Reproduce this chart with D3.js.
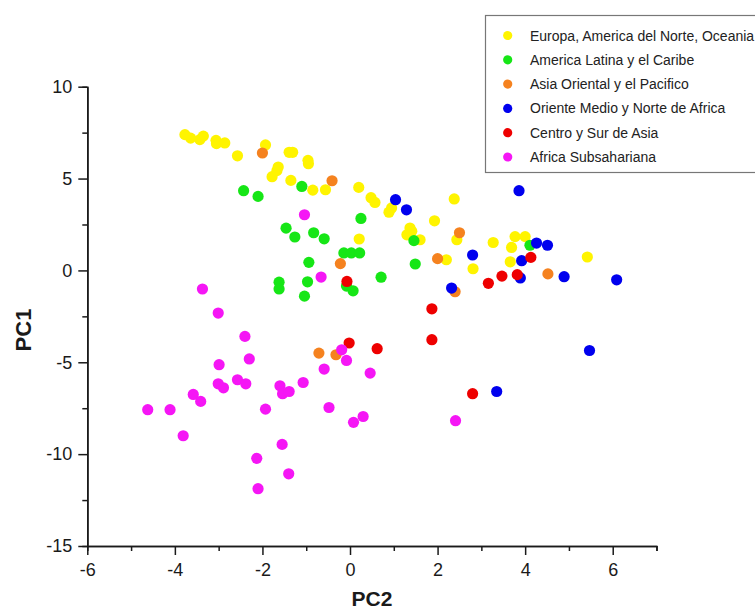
<!DOCTYPE html>
<html>
<head>
<meta charset="utf-8">
<script src="https://cdn.jsdelivr.net/npm/d3@7"></script>
<style>
  html, body { margin: 0; padding: 0; background: #fff; }
  svg { display: block; font-family: "Liberation Sans", Arial, sans-serif; }
</style>
</head>
<body>
<svg id="chart" width="755" height="612"></svg>
<script>
// ---- Data (PC2, PC1) per region ----
const seriesNames = [
  "Europa, America del Norte, Oceania",
  "America Latina y el Caribe",
  "Asia Oriental y el Pacifico",
  "Oriente Medio y Norte de Africa",
  "Centro y Sur de Asia",
  "Africa Subsahariana"
];
const seriesColors = ["#fff400", "#16e616", "#f5821f", "#0000ee", "#ee0000", "#f516f5"];

const europa = [
  [-3.77,7.39],[-3.64,7.20],[-3.43,7.12],[-3.35,7.31],[-3.06,7.08],[-3.05,6.90],[-2.86,6.94],
  [-2.57,6.24],[-1.93,6.83],[-1.39,6.43],[-1.31,6.43],[-1.64,5.63],[-1.67,5.43],[-1.78,5.10],
  [-0.96,5.99],[-0.95,5.81],[-1.35,4.90],[-0.85,4.37],[-0.56,4.39],[0.20,4.52],[0.48,3.96],
  [0.57,3.70],[0.89,3.17],[0.95,3.40],[2.38,3.89],[1.93,2.70],[0.21,1.71],[1.37,2.31],
  [1.41,2.13],[1.30,1.94],[1.60,1.67],[2.44,1.67],[3.27,1.52],[3.77,1.84],[4.00,1.84],
  [3.69,1.25],[5.42,0.73],[2.20,0.58],[3.66,0.47],[2.81,0.09]
];
const americaLatina = [
  [-2.43,4.34],[-2.10,4.03],[-1.10,4.57],[0.25,2.83],[-1.46,2.30],[-1.26,1.82],[-0.83,2.05],
  [-0.59,1.72],[-0.14,0.95],[0.03,0.95],[0.22,0.95],[-0.94,0.44],[-0.97,-0.62],[-1.62,-0.64],
  [-1.62,-1.01],[-1.04,-1.40],[-0.08,-0.85],[0.07,-1.11],[0.71,-0.37],[1.49,0.35],[1.46,1.62],
  [4.11,1.37]
];
const asiaOriental = [
  [-2.00,6.39],[-0.41,4.88],[-0.22,0.37],[2.00,0.64],[2.50,2.05],[4.52,-0.19],[2.40,-1.16],
  [-0.71,-4.50],[-0.32,-4.59]
];
const orienteMedio = [
  [1.04,3.85],[1.29,3.30],[3.86,4.34],[4.26,1.49],[4.51,1.37],[2.80,0.84],[3.92,0.53],
  [4.89,-0.34],[6.09,-0.51],[3.89,-0.41],[2.32,-0.96],[5.47,-4.36],[3.35,-6.59]
];
const centroSurAsia = [
  [-0.07,-0.60],[1.87,-2.09],[1.87,-3.77],[-0.02,-3.95],[0.62,-4.26],[2.80,-6.71],
  [3.16,-0.70],[3.47,-0.31],[3.82,-0.23],[4.13,0.71]
];
const africaSub = [
  [-3.37,-1.01],[-3.01,-2.32],[-2.40,-3.59],[-2.30,-4.82],[-2.99,-5.13],[-3.01,-6.17],
  [-2.89,-6.39],[-2.57,-5.95],[-2.38,-6.17],[-1.60,-6.28],[-1.54,-6.71],[-1.39,-6.59],
  [-1.07,-6.10],[-3.58,-6.75],[-3.41,-7.13],[-4.62,-7.58],[-4.11,-7.58],[-1.93,-7.55],
  [-0.48,-7.46],[0.08,-8.27],[0.30,-7.95],[-3.81,-9.00],[-1.55,-9.47],[-2.13,-10.23],
  [-1.40,-11.07],[-2.10,-11.88],[-0.19,-4.32],[-0.08,-4.90],[-0.59,-5.37],[0.46,-5.59],
  [2.41,-8.18],[-1.04,3.03],[-0.66,-0.36]
];
const allSeries = [europa, americaLatina, asiaOriental, orienteMedio, centroSurAsia, africaSub];

const xMajorTicks = [-6,-4,-2,0,2,4,6];
const xMinorTicks = [-5,-3,-1,1,3,5,7];
const yMajorTicks = [-15,-10,-5,0,5,10];
const yMinorTicks = [-12.5,-7.5,-2.5,2.5,7.5];
const xTitle = "PC2";
const yTitle = "PC1";

// ---- Drawing ----
const svg = d3.select("#chart");
const x = d3.scaleLinear().domain([-6, 7]).range([87.3, 656.5]);
const y = d3.scaleLinear().domain([-15, 10]).range([546, 86.7]);
const axisColor = "#1a1a1a";

// minor ticks
svg.append("g").attr("transform", `translate(0,${y(-15)})`)
  .call(d3.axisBottom(x).tickValues(xMinorTicks).tickSize(5).tickFormat(""));
svg.append("g").attr("transform", `translate(${x(-6)},0)`)
  .call(d3.axisLeft(y).tickValues(yMinorTicks).tickSize(5).tickFormat(""));
// major ticks + labels
svg.append("g").attr("transform", `translate(0,${y(-15)})`)
  .call(d3.axisBottom(x).tickValues(xMajorTicks).tickSize(9).tickSizeOuter(0).tickPadding(8).tickFormat(d => String(d)));
svg.append("g").attr("transform", `translate(${x(-6)},0)`)
  .call(d3.axisLeft(y).tickValues(yMajorTicks).tickSize(9).tickSizeOuter(0).tickPadding(6).tickFormat(d => String(d)));

svg.selectAll(".domain").attr("stroke", axisColor).attr("stroke-width", 1.6);
svg.selectAll(".tick line").attr("stroke", axisColor).attr("stroke-width", 1.5);
svg.selectAll(".tick text").attr("fill", "#1a1a1a")
  .style("font-family", "'Liberation Sans', Arial, sans-serif").style("font-size", "18px");

// axis titles
svg.append("text").attr("x", 372).attr("y", 606).attr("text-anchor", "middle")
  .style("font-size", "21px").style("font-weight", "bold").attr("fill", "#1a1a1a").text(xTitle);
svg.append("text").attr("transform", "translate(31,330) rotate(-90)").attr("text-anchor", "middle")
  .style("font-size", "22px").style("font-weight", "bold").attr("fill", "#1a1a1a").text(yTitle);

// points
allSeries.forEach((pts, i) => {
  svg.append("g").selectAll("circle").data(pts).join("circle")
    .attr("cx", d => x(d[0])).attr("cy", d => y(d[1])).attr("r", 5.6)
    .attr("fill", seriesColors[i]);
});

// legend
const lg = svg.append("g");
lg.append("rect").attr("x", 485.5).attr("y", 15.5).attr("width", 290).attr("height", 157)
  .attr("fill", "#fff").attr("stroke", "#777").attr("stroke-width", 1.2);
seriesNames.forEach((name, i) => {
  const cy = 35.5 + i * 24.3;
  lg.append("circle").attr("cx", 507.7).attr("cy", cy).attr("r", 4.6).attr("fill", seriesColors[i]);
  lg.append("text").attr("x", 530).attr("y", cy).attr("dy", "0.36em")
    .style("font-size", "14px").attr("fill", "#222").text(name);
});
</script>
</body>
</html>
